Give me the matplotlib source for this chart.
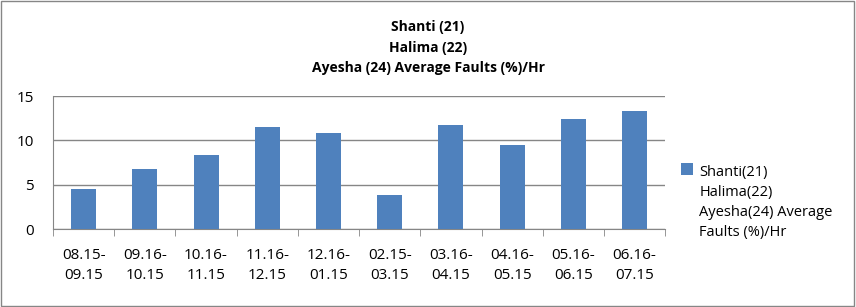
import numpy as np
import matplotlib
matplotlib.use("Agg")
import matplotlib.pyplot as plt
from matplotlib.patches import Rectangle
from matplotlib.legend_handler import HandlerPatch

plt.rcParams['font.family'] = ['Open Sans', 'DejaVu Sans']

periods = ["08.15-\n09.15", "09.16-\n10.15", "10.16-\n11.15", "11.16-\n12.15", "12.16-\n01.15",
           "02.15-\n03.15", "03.16-\n04.15", "04.16-\n05.15", "05.16-\n06.15", "06.16-\n07.15"]
faults = [4.5, 6.8, 8.4, 11.5, 10.8, 3.8, 11.7, 9.5, 12.4, 13.3]
series_name = "Shanti(21)\nHalima(22)\nAyesha(24) Average\nFaults (%)/Hr"
title = "Shanti (21)\nHalima (22)\nAyesha (24) Average Faults (%)/Hr"

blue = "#4f81bd"
grey = "#868686"

fig = plt.figure(figsize=(8.56, 3.07), dpi=100)
fig.patches.append(Rectangle((0.001, 0.002), 0.997, 0.995, transform=fig.transFigure,
                             fill=False, edgecolor=grey, linewidth=1))

ax = fig.add_axes([0.062, 0.254, 0.715, 0.433])
x = np.arange(len(faults))
bars = ax.bar(x, faults, width=0.41, color=blue, zorder=3, label=series_name)

ax.set_xlim(-0.5, len(faults) - 0.5)
ax.set_ylim(0, 15)
ax.set_yticks([0, 5, 10, 15])
ax.yaxis.grid(True, color=grey, linewidth=1, zorder=0)
ax.set_xticks(x)
ax.set_xticklabels(periods, fontsize=11, linespacing=1.4)
ax.set_xticks(np.arange(-0.5, len(faults)), minor=True)
ax.tick_params(axis='x', which='major', length=0, pad=14)
ax.tick_params(axis='x', which='minor', length=5, color=grey)
ax.tick_params(axis='y', length=0, labelsize=11, pad=14)

for s in ['top', 'right']:
    ax.spines[s].set_visible(False)
for s in ['left', 'bottom']:
    ax.spines[s].set_color(grey)


def top_square(legend, orig_handle, xdescent, ydescent, width, height, fontsize):
    side = 0.85 * fontsize
    return Rectangle((-xdescent, height - ydescent - side * 1.15 + 1.37 * fontsize), side, side)


leg = fig.legend([bars[0]], [series_name], loc='upper left', bbox_to_anchor=(0.787, 0.485),
                 frameon=False, fontsize=10.5, handlelength=0.95, handleheight=4.6,
                 handletextpad=0.3, borderpad=0,
                 handler_map={Rectangle: HandlerPatch(patch_func=top_square)})
leg.texts[0].set_linespacing(1.45)

fig.text(0.5, 0.935, title, ha='center', va='top', fontsize=10, fontweight='bold',
         linespacing=1.6)

fig.savefig("out.png", dpi=100)
